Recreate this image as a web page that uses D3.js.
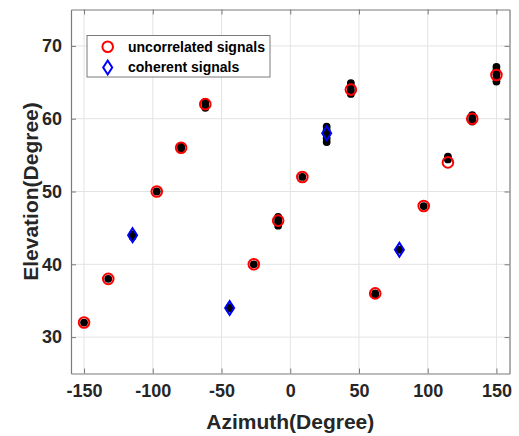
<!DOCTYPE html>
<html>
<head>
<meta charset="utf-8">
<script src="https://cdn.jsdelivr.net/npm/d3@7"></script>
<style>
  html, body { margin: 0; padding: 0; background: #fff; }
  svg { display: block; font-family: "Liberation Sans", Arial, sans-serif; }
</style>
</head>
<body>
<svg id="chart" width="519" height="436"></svg>
<script>
// True source directions (azimuth, elevation) in degrees
const uncorrAz = [-150, -132.4, -97.1, -79.4, -61.8, -26.5, -8.8, 8.8, 44.1, 61.8, 97.1, 114.7, 132.4, 150];
const uncorrEl = [32, 38, 50, 56, 62, 40, 46, 52, 64, 36, 48, 54, 60, 66];
const cohAz = [-114.7, -44.1, 26.5, 79.4];
const cohEl = [44, 34, 58, 42];

// Estimated directions over repeated trials
const estAz = [-150, -132.4, -114.7, -114.7, -97.1, -79.4, -79.4, -61.8, -61.8, -61.8,
  -44.1, -44.1, -26.5, -8.8, -8.8, -8.8, -8.8, 8.8, 26.5, 26.5, 26.5, 26.5, 26.5,
  44.1, 44.1, 44.1, 44.1, 61.8, 61.8, 79.4, 97.1, 114.7, 114.7, 132.4, 132.4, 132.4,
  150, 150, 150, 150, 150];
const estEl = [32, 38, 44.1, 43.8, 50, 56.2, 55.9, 62.3, 61.9, 61.5,
  34.1, 33.9, 40, 46.5, 46.1, 45.7, 45.3, 52, 58.9, 58.4, 57.9, 57.3, 56.8,
  64.9, 64.4, 63.9, 63.4, 36, 35.8, 42, 48, 54.8, 54.4, 60.5, 60, 59.6,
  67.1, 66.6, 66.1, 65.6, 65.1];

const xTicks = [-150, -100, -50, 0, 50, 100, 150];
const yTicks = [30, 40, 50, 60, 70];
const legendLabels = ["uncorrelated signals", "coherent signals"];

const svg = d3.select("#chart");
const pL = 71, pR = 509.5, pT = 9.5, pB = 373.5;

const x = d3.scaleLinear().domain([-159.5, 159.5]).range([pL, pR]);
const y = d3.scaleLinear().domain([25, 75]).range([pB, pT]);

// grid
const grid = svg.append("g");
grid.selectAll(".gx").data(xTicks).enter().append("line")
  .attr("x1", d => x(d)).attr("x2", d => x(d))
  .attr("y1", pT).attr("y2", pB)
  .attr("stroke", "#e3e3e3").attr("stroke-width", 1);
grid.selectAll(".gy").data(yTicks).enter().append("line")
  .attr("y1", d => y(d)).attr("y2", d => y(d))
  .attr("x1", pL).attr("x2", pR)
  .attr("stroke", "#e3e3e3").attr("stroke-width", 1);

// axes with inward ticks; plain hyphen for negative labels
const tickFmt = d => String(d);
const axB = svg.append("g").attr("transform", `translate(0,${pB})`)
  .call(d3.axisBottom(x).tickValues(xTicks).tickSizeInner(-5).tickSizeOuter(0).tickPadding(11).tickFormat(tickFmt));
const axT = svg.append("g").attr("transform", `translate(0,${pT})`)
  .call(d3.axisTop(x).tickValues(xTicks).tickSizeInner(-5).tickSizeOuter(0).tickFormat(""));
const axL = svg.append("g").attr("transform", `translate(${pL},0)`)
  .call(d3.axisLeft(y).tickValues(yTicks).tickSizeInner(-5).tickSizeOuter(0).tickPadding(9).tickFormat(tickFmt));
const axR = svg.append("g").attr("transform", `translate(${pR},0)`)
  .call(d3.axisRight(y).tickValues(yTicks).tickSizeInner(-5).tickSizeOuter(0).tickFormat(""));

[axB, axT, axL, axR].forEach(g => {
  g.select(".domain").attr("stroke", "#7a7a7a").attr("stroke-width", 1.2);
  g.selectAll(".tick line").attr("stroke", "#7a7a7a");
  g.selectAll(".tick text").attr("fill", "#262626")
    .style("font-size", "18px").style("font-weight", "bold");
});
axB.selectAll(".tick text").attr("dy", "0.71em");

// estimates (drawn below the true-direction markers)
const plot = svg.append("g");
plot.selectAll(".est").data(estAz.map((a, i) => [a, estEl[i]])).enter().append("circle")
  .attr("cx", d => x(d[0])).attr("cy", d => y(d[1])).attr("r", 3.9)
  .attr("fill", "#000");

// uncorrelated signals: red circles
plot.selectAll(".unc").data(uncorrAz.map((a, i) => [a, uncorrEl[i]])).enter().append("circle")
  .attr("cx", d => x(d[0])).attr("cy", d => y(d[1])).attr("r", 5.3)
  .attr("fill", "none").attr("stroke", "#ff0000").attr("stroke-width", 2);

// coherent signals: blue diamonds
const diamond = (cx, cy) => `M${cx},${cy - 7}L${cx + 4.5},${cy}L${cx},${cy + 7}L${cx - 4.5},${cy}Z`;
plot.selectAll(".coh").data(cohAz.map((a, i) => [a, cohEl[i]])).enter().append("path")
  .attr("d", d => diamond(x(d[0]), y(d[1])))
  .attr("fill", "none").attr("stroke", "#0000ff").attr("stroke-width", 2);

// legend
const lg = svg.append("g");
lg.append("rect").attr("x", 87).attr("y", 35.5).attr("width", 183).attr("height", 41.5)
  .attr("fill", "#fff").attr("stroke", "#7a7a7a").attr("stroke-width", 1);
lg.append("circle").attr("cx", 107.7).attr("cy", 46.7).attr("r", 5.3)
  .attr("fill", "none").attr("stroke", "#ff0000").attr("stroke-width", 2);
lg.append("path").attr("d", diamond(107.7, 67.5))
  .attr("fill", "none").attr("stroke", "#0000ff").attr("stroke-width", 2);
lg.selectAll(".lt").data(legendLabels).enter().append("text")
  .attr("x", 128).attr("y", (d, i) => 46.7 + i * 20.8)
  .attr("dy", "0.35em")
  .style("font-size", "14px").style("font-weight", "bold").attr("fill", "#000")
  .text(d => d);

// axis titles
svg.append("text").attr("x", (pL + pR) / 2).attr("y", 429)
  .attr("text-anchor", "middle").attr("fill", "#262626")
  .style("font-size", "21px").style("font-weight", "bold")
  .text("Azimuth(Degree)");
svg.append("text")
  .attr("transform", `translate(38,${(pT + pB) / 2}) rotate(-90)`)
  .attr("text-anchor", "middle").attr("fill", "#262626")
  .style("font-size", "21px").style("font-weight", "bold")
  .text("Elevation(Degree)");
</script>
</body>
</html>
